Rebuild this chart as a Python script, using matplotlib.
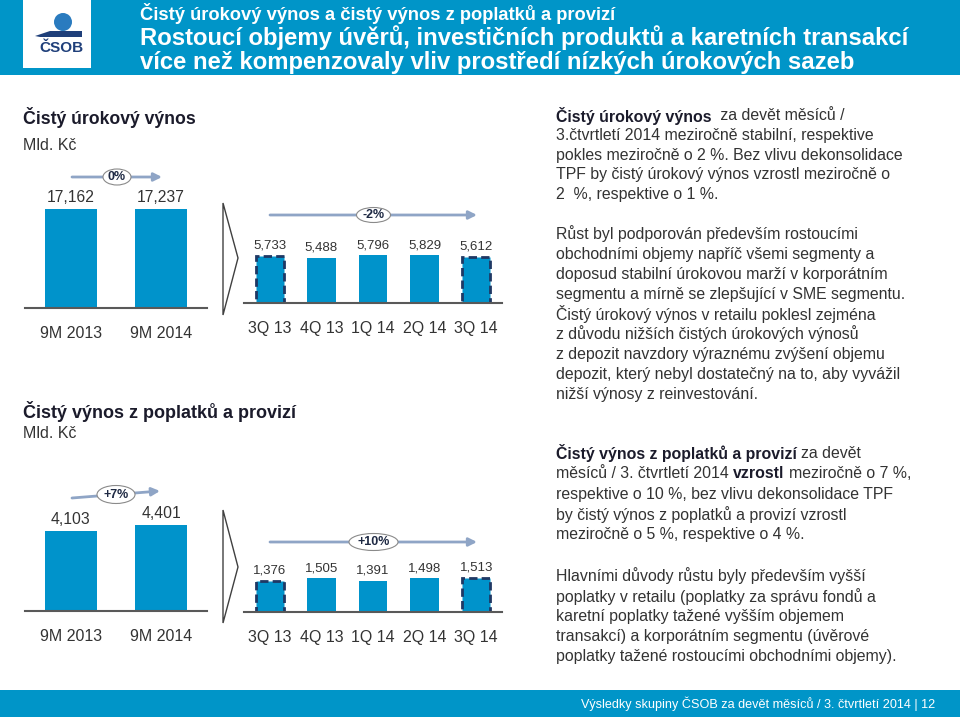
import matplotlib
matplotlib.use('Agg')
import matplotlib.pyplot as plt
from matplotlib.patches import Rectangle, Ellipse, Polygon, Circle

plt.rcParams['font.family'] = ['Liberation Sans', 'DejaVu Sans']

W, H = 960, 717
BLUE = '#0095c8'
BAR = '#0093cb'
NAVY = '#1f3864'
ARROW = '#8fa5c6'
TXT = '#333333'
DARK = '#1b1b2b'

# data
years = ['9M 2013', '9M 2014']
quarters = ['3Q 13', '4Q 13', '1Q 14', '2Q 14', '3Q 14']
nii_9m = [17162, 17237]
nii_q = [5733, 5488, 5796, 5829, 5612]
fee_9m = [4103, 4401]
fee_q = [1376, 1505, 1391, 1498, 1513]
nii_growth = ['0%', '-2%']
fee_growth = ['+7%', '+10%']

fig = plt.figure(figsize=(9.6, 7.17), dpi=100)
bg = fig.add_axes([0, 0, 1, 1])
bg.set_xlim(0, W)
bg.set_ylim(H, 0)
bg.axis('off')
renderer = fig.canvas.get_renderer()

# header
bg.add_patch(Rectangle((0, 0), W, 75, color=BLUE, lw=0))
bg.add_patch(Rectangle((23, 0), 68, 68, color='white', lw=0))
bg.add_patch(Circle((63, 22), 9, color='#2a7bbf', lw=0))
bg.add_patch(Polygon([(35, 36), (50, 31), (82, 31), (82, 37), (40, 37)], color='#1f3f7a', lw=0))
bg.text(61, 48, 'ČSOB', fontsize=11, fontweight='bold', color='#1f3f7a', ha='center', va='center')
bg.text(140, 13, 'Čistý úrokový výnos a čistý výnos z poplatků a provizí', fontsize=13.2,
        fontweight='bold', color='white', va='center')
bg.text(140, 38, 'Rostoucí objemy úvěrů, investičních produktů a karetních transakcí', fontsize=17.2,
        fontweight='bold', color='white', va='center')
bg.text(140, 63, 'více než kompenzovaly vliv prostředí nízkých úrokových sazeb', fontsize=17.2,
        fontweight='bold', color='white', va='center')

# footer
bg.add_patch(Rectangle((0, 690), W, 27, color=BLUE, lw=0))
bg.text(935, 704, 'Výsledky skupiny ČSOB za devět měsíců / 3. čtvrtletí 2014 | 12', fontsize=9.1,
        color='white', ha='right', va='center')

# left titles
bg.text(23, 118, 'Čistý úrokový výnos', fontsize=12.7, fontweight='bold', color=DARK, va='center')
bg.text(23, 146, 'Mld. Kč', fontsize=11.5, color=TXT, va='center')
bg.text(23, 412, 'Čistý výnos z poplatků a provizí', fontsize=13, fontweight='bold', color=DARK, va='center')
bg.text(23, 434, 'Mld. Kč', fontsize=11.5, color=TXT, va='center')


def bar_panel(left, right, base, top, cats, vals, ymax, xlim, width, val_size, dashed=False):
    ax = fig.add_axes([left / W, 1 - base / H, (right - left) / W, (base - top) / H])
    ax.patch.set_visible(False)
    x = list(range(len(cats)))
    bars = ax.bar(x, vals, width=width, color=BAR, lw=0)
    if dashed:
        for i in (0, len(cats) - 1):
            bars[i].set_edgecolor(NAVY)
            bars[i].set_linestyle((0, (3, 1.5)))
            bars[i].set_linewidth(2)
    for i, v in zip(x, vals):
        ax.annotate(f'{v:,}', (i, v), xytext=(0, 3), textcoords='offset points',
                    ha='center', va='bottom', fontsize=val_size, color=TXT)
    ax.set_xlim(*xlim)
    ax.set_ylim(0, ymax)
    ax.set_xticks(x)
    ax.set_xticklabels(cats, fontsize=11.5, color=TXT)
    ax.tick_params(axis='x', length=0, pad=13)
    ax.set_yticks([])
    for s in ('left', 'right', 'top'):
        ax.spines[s].set_visible(False)
    ax.spines['bottom'].set_color('#595959')
    ax.spines['bottom'].set_linewidth(1.5)
    return ax


bar_panel(25, 207, 308, 208, years, nii_9m, 17400, (-0.511, 1.511), 0.578, 11.3)
bar_panel(244, 502, 303, 253, quarters, nii_q, 6100, (-0.5, 4.5), 0.55, 9.5, dashed=True)
bar_panel(25, 207, 611, 521, years, fee_9m, 4620, (-0.511, 1.511), 0.578, 11.3)
bar_panel(244, 502, 612, 572, quarters, fee_q, 1780, (-0.5, 4.5), 0.55, 9.5, dashed=True)


def growth(x0, y0, x1, y1, label, ew, eh):
    bg.annotate('', xy=(x1, y1), xytext=(x0, y0),
                arrowprops=dict(arrowstyle='-|>', color=ARROW, lw=2, mutation_scale=12,
                                shrinkA=0, shrinkB=0))
    cx, cy = (x0 + x1) / 2, (y0 + y1) / 2
    bg.add_patch(Ellipse((cx, cy), ew, eh, fc='white', ec='#8a8a8a', lw=0.8, zorder=3))
    bg.text(cx, cy, label, fontsize=9, fontweight='bold', color='#1f2a44',
            ha='center', va='center', zorder=4)


growth(72, 177, 162, 177, nii_growth[0], 28, 16)
growth(270, 215, 477, 215, nii_growth[1], 34, 15)
growth(72, 498, 160, 491, fee_growth[0], 38, 18)
growth(270, 542, 477, 542, fee_growth[1], 49, 17)

# chevrons
for top, tip, bot in [(203, 258, 315), (510, 567, 623)]:
    bg.add_patch(Polygon([(223, top), (238, tip), (223, bot)], closed=True, fill=False,
                         ec='#404040', lw=1))

# right-hand commentary
SIZE = 11.4
GAP = 0.278 * SIZE * 100 / 72


def line(x, y, segs):
    for s, bold in segs:
        t = bg.text(x, y, s, fontsize=SIZE, fontweight='bold' if bold else 'normal',
                    color=DARK if bold else TXT, va='center', ha='left')
        x = t.get_window_extent(renderer).x1 + GAP


paras = [
    (116, 19.6, [
        [('Čistý úrokový výnos', True), (' za devět měsíců /', False)],
        [('3.čtvrtletí 2014 meziročně stabilní, respektive', False)],
        [('pokles meziročně o 2 %. Bez vlivu dekonsolidace', False)],
        [('TPF by čistý úrokový výnos vzrostl meziročně o', False)],
        [('2  %, respektive o 1 %.', False)],
    ]),
    (234, 20.0, [
        [('Růst byl podporován především rostoucími', False)],
        [('obchodními objemy napříč všemi segmenty a', False)],
        [('doposud stabilní úrokovou marží v korporátním', False)],
        [('segmentu a mírně se zlepšující v SME segmentu.', False)],
        [('Čistý úrokový výnos v retailu poklesl zejména', False)],
        [('z důvodu nižších čistých úrokových výnosů', False)],
        [('z depozit navzdory výraznému zvýšení objemu', False)],
        [('depozit, který nebyl dostatečný na to, aby vyvážil', False)],
        [('nižší výnosy z reinvestování.', False)],
    ]),
    (453, 20.5, [
        [('Čistý výnos z poplatků a provizí', True), ('za devět', False)],
        [('měsíců / 3. čtvrtletí 2014', False), ('vzrostl', True), ('meziročně o 7 %,', False)],
        [('respektive o 10 %, bez vlivu dekonsolidace TPF', False)],
        [('by čistý výnos z poplatků a provizí vzrostl', False)],
        [('meziročně o 5 %, respektive o 4 %.', False)],
    ]),
    (576, 20.25, [
        [('Hlavními důvody růstu byly především vyšší', False)],
        [('poplatky v retailu (poplatky za správu fondů a', False)],
        [('karetní poplatky tažené vyšším objemem', False)],
        [('transakcí) a korporátním segmentu (úvěrové', False)],
        [('poplatky tažené rostoucími obchodními objemy).', False)],
    ]),
]
for y0, step, lines in paras:
    for k, segs in enumerate(lines):
        line(556, y0 + k * step, segs)

fig.savefig('out.png', dpi=100)
